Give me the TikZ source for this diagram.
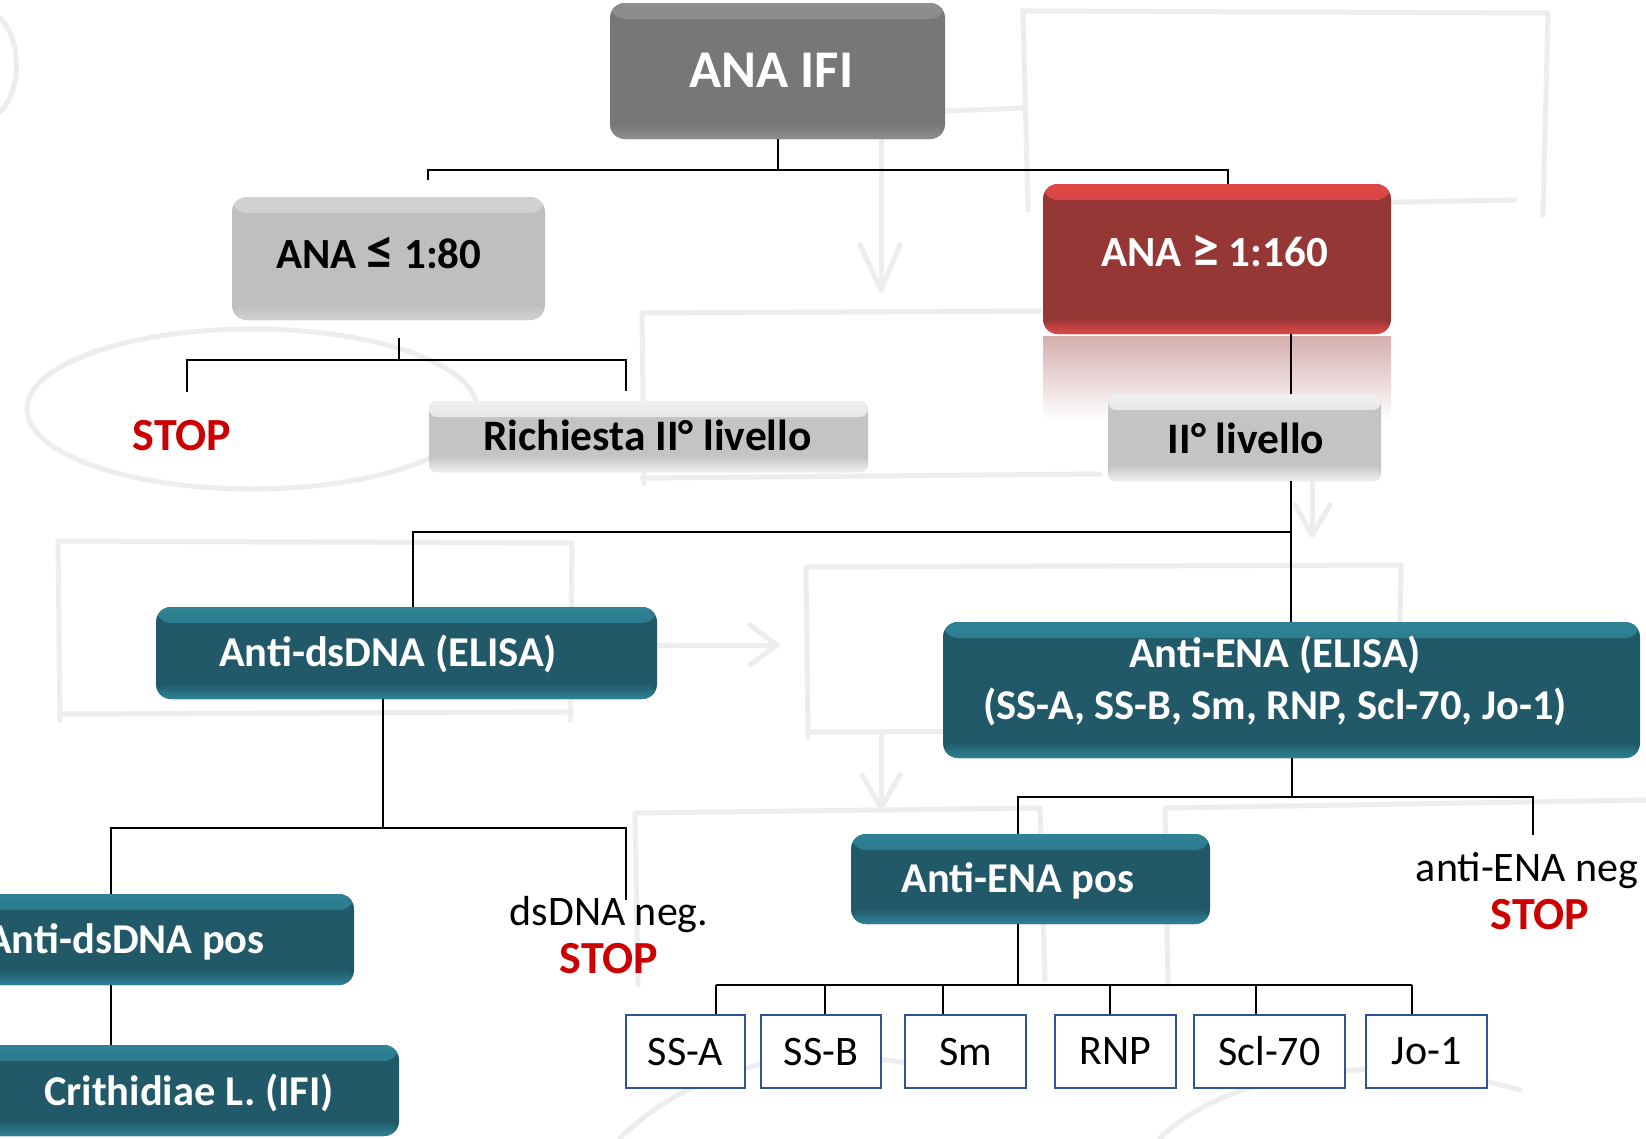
\documentclass[tikz,border=0pt]{standalone}
\usepackage{fontspec}
\setmainfont{Carlito}
\definecolor{ifiFill}{HTML}{777777}
\definecolor{ifiRim}{HTML}{8E8E8E}
\definecolor{lowFill}{HTML}{BFBFBF}
\definecolor{lowRim}{HTML}{D2D2D2}
\definecolor{highFill}{HTML}{953735}
\definecolor{highRim}{HTML}{E04848}
\definecolor{grFill}{HTML}{C4C4C4}
\definecolor{grRim}{HTML}{F0F0F0}
\definecolor{tealFill}{HTML}{215968}
\definecolor{tealRim}{HTML}{2F8296}
\definecolor{boxBlue}{HTML}{2F5597}
\definecolor{stopRed}{HTML}{CC0000}
\definecolor{bgLine}{HTML}{EDEDED}
\newcommand{\bigrel}[1]{\raisebox{-0.02em}{\scalebox{1.3}{#1}}}
\begin{document}
\begin{tikzpicture}[x=1pt,y=-1pt,
  conn/.style={draw=black, line width=2pt},
  bev/.style 2 args={fill=#1, path picture={
    \shade[top color=#2, bottom color=#1] (path picture bounding box.north west) rectangle ([yshift=-16pt]path picture bounding box.north east);
    \shade[top color=#1, bottom color=#2] ([yshift=16pt]path picture bounding box.south west) rectangle (path picture bounding box.south east);}},
  boxbase/.style={rectangle, rounded corners=15pt, inner sep=0pt},
  ifibox/.style={boxbase, bev={ifiFill}{ifiRim}},
  lowbox/.style={boxbase, bev={lowFill}{lowRim}},
  highbox/.style={boxbase, bev={highFill}{highRim}},
  greybox/.style={boxbase, rounded corners=8pt, bev={grFill}{grRim}},
  tealbox/.style={boxbase, bev={tealFill}{tealRim}},
  ifitext/.style={inner sep=0pt, text=white, font=\bfseries\fontsize{53}{60}\selectfont},
  lowtext/.style={inner sep=0pt, text=black, font=\bfseries\fontsize{43}{50}\selectfont},
  hightext/.style={inner sep=0pt, text=white, font=\bfseries\fontsize{43}{50}\selectfont},
  greytext/.style={inner sep=0pt, text=black, font=\bfseries\fontsize{43.5}{50}\selectfont},
  tealtext/.style={inner sep=0pt, text=white, align=center, font=\bfseries\fontsize{42.5}{52}\selectfont},
  smallbox/.style={rectangle, draw=boxBlue, line width=2pt, fill=white, inner sep=0pt, minimum height=73pt, font=\fontsize{42}{48}\selectfont},
  plaintext/.style={inner sep=0pt, font=\fontsize{42}{48}\selectfont},
  stoptext/.style={inner sep=0pt, text=stopRed, font=\bfseries\fontsize{46}{52}\selectfont},
  bg/.style={draw=bgLine, line width=5pt, line cap=round, line join=round}
]
\useasboundingbox (0,0) rectangle (1646,1138);
\fill[white] (0,0) rectangle (1646,1138);
% faint background sketch
\draw[bg] (1023,11) -- (1548,13) -- (1543,215);
\draw[bg] (1023,11) -- (1028,210);
\draw[bg] (945,111) -- (1023,108);
\draw[bg] (1300,204) -- (1515,200);
\draw[bg] (881,139) -- (881,290);
\draw[bg] (860,245) -- (881,290) -- (900,245);
\draw[bg] (642,313) -- (1040,311);
\draw[bg] (642,313) -- (644,483);
\draw[bg] (642,478) -- (1100,474);
\draw[bg] (252,409) ellipse [x radius=225, y radius=80];
\draw[bg] (0,18) .. controls (22,40) and (22,90) .. (0,112);
\draw[bg] (58,541) -- (572,543) -- (570,720);
\draw[bg] (58,541) -- (60,720);
\draw[bg] (60,714) -- (572,712);
\draw[bg] (806,567) -- (1401,565) -- (1398,737);
\draw[bg] (806,567) -- (808,737);
\draw[bg] (808,732) -- (1398,730);
\draw[bg] (656,645) -- (777,645);
\draw[bg] (750,625) -- (777,645) -- (750,665);
\draw[bg] (881,735) -- (881,808);
\draw[bg] (862,775) -- (881,808) -- (900,775);
\draw[bg] (1312,483) -- (1312,535);
\draw[bg] (1295,505) -- (1312,535) -- (1330,505);
\draw[bg] (635,813) -- (1040,808) -- (1045,980);
\draw[bg] (1165,808) -- (1646,800);
\draw[bg] (1165,808) -- (1168,985);
\draw[bg] (635,813) -- (638,985);
\draw[bg] (620,1138) .. controls (700,1060) and (820,1040) .. (940,1070);
\draw[bg] (1160,1138) .. controls (1230,1070) and (1380,1050) .. (1520,1090);
% boxes
\node[ifibox, minimum width=335pt, minimum height=136pt] (ifi) at (777.5,71) {};
\node[ifitext] (ifitxt) at (771.5,70) {ANA IFI};
\node[lowbox, minimum width=313pt, minimum height=123pt] (low) at (388.5,258.5) {};
\node[lowtext] (lowtxt) at (379,253) {ANA \bigrel{≤} 1:80};
\node[highbox, minimum width=348pt, minimum height=150pt] (high) at (1217,259) {};
\node[hightext] (hightxt) at (1214.5,251) {ANA \bigrel{≥} 1:160};
\shade[top color=highFill!40!white, bottom color=white] (1043,336) rectangle (1391,420);
\node[stoptext] (stop1) at (182,436) {STOP};
\node[greybox, minimum width=439pt, minimum height=71pt] (rich) at (648.5,436.5) {};
\node[greytext] (richtxt) at (647.5,435) {Richiesta II° livello};
\node[greybox, minimum width=273pt, minimum height=87pt] (liv2) at (1244.5,437.5) {};
\node[greytext] (liv2txt) at (1246,438) {II° livello};
\node[tealbox, minimum width=501pt, minimum height=92pt] (dsdna) at (406.5,653) {};
\node[tealtext] (dsdnatxt) at (388,654) {Anti-dsDNA (ELISA)};
\node[tealbox, minimum width=697pt, minimum height=136pt] (ena) at (1291.5,690) {};
\node[tealtext] (enatxt) at (1275,681) {Anti-ENA (ELISA)\\(SS-A, SS-B, Sm, RNP, Scl-70, Jo-1)};
\node[tealbox, minimum width=359pt, minimum height=90pt] (enapos) at (1030.5,879) {};
\node[tealtext] (enapostxt) at (1018,881) {Anti-ENA pos};
\node[tealbox, minimum width=384pt, minimum height=91pt] (dspos) at (162,939.5) {};
\node[tealtext, anchor=east] (dspostxt) at (265,942) {Anti-dsDNA pos};
\node[tealbox, minimum width=429pt, minimum height=91pt] (crith) at (184.5,1090.5) {};
\node[tealtext] (crithtxt) at (189,1093) {Crithidiae L. (IFI)};
\node[plaintext] (dsneg) at (609,915) {dsDNA neg.};
\node[stoptext] (stop2) at (609,959) {STOP};
\node[plaintext] (enaneg) at (1527,871) {anti-ENA neg};
\node[stoptext] (stop3) at (1540,915) {STOP};
\node[smallbox, minimum width=119pt] (sa) at (685.5,1051.5) {SS-A};
\node[smallbox, minimum width=120pt] (sb) at (821,1051.5) {SS-B};
\node[smallbox, minimum width=121pt] (sm) at (965.5,1051.5) {Sm};
\node[smallbox, minimum width=121pt] (rnp) at (1115.5,1051.5) {RNP};
\node[smallbox, minimum width=151pt] (scl) at (1269.5,1051.5) {Scl-70};
\node[smallbox, minimum width=121pt] (jo) at (1426.5,1051.5) {Jo-1};
% connectors
\coordinate (e1) at (428,180);
\coordinate (t1R) at (1228,170);
\draw[conn] (ifi.south) -- (ifi.south |- t1R);
\draw[conn] (e1) |- (t1R) -- (t1R |- high.north);
\coordinate (e2a) at (399,338);
\coordinate (t2L) at (187,360);
\coordinate (t2R) at (626,360);
\coordinate (e2L) at (187,392);
\coordinate (e2R) at (626,391);
\draw[conn] (e2a) -- (e2a |- t2L);
\draw[conn] (e2L) -- (t2L) -- (t2R) -- (e2R);
\coordinate (c3) at (1291,334);
\draw[conn] (c3) -- (c3 |- liv2.north);
\coordinate (t4L) at (413,532);
\coordinate (t4R) at (1291,532);
\draw[conn] (t4R |- liv2.south) -- (t4R |- ena.north);
\draw[conn] (t4L |- dsdna.north) -- (t4L) -- (t4R);
\coordinate (c5) at (383,828);
\coordinate (t5L) at (111,828);
\coordinate (t5R) at (626,828);
\coordinate (e5R) at (626,900);
\draw[conn] (c5 |- dsdna.south) -- (c5);
\draw[conn] (t5L |- dspos.north) -- (t5L) -- (t5R) -- (e5R);
\draw[conn] (t5L |- dspos.south) -- (t5L |- crith.north);
\coordinate (t7L) at (1018,797);
\coordinate (t7R) at (1533,797);
\coordinate (e7R) at (1533,835);
\draw[conn] (ena.south) -- (ena.south |- t7L);
\draw[conn] (t7L |- enapos.north) -- (t7L) -- (t7R) -- (e7R);
\coordinate (t8) at (1018,985);
\coordinate (d1) at (716,985);
\coordinate (d2) at (825,985);
\coordinate (d3) at (943,985);
\coordinate (d4) at (1110,985);
\coordinate (d5) at (1256,985);
\coordinate (d6) at (1412,985);
\draw[conn] (t8 |- enapos.south) -- (t8);
\draw[conn] (d1) -- (d6);
\draw[conn] (d1) -- (d1 |- sa.north);
\draw[conn] (d2) -- (d2 |- sb.north);
\draw[conn] (d3) -- (d3 |- sm.north);
\draw[conn] (d4) -- (d4 |- rnp.north);
\draw[conn] (d5) -- (d5 |- scl.north);
\draw[conn] (d6) -- (d6 |- jo.north);
\end{tikzpicture}
\end{document}
